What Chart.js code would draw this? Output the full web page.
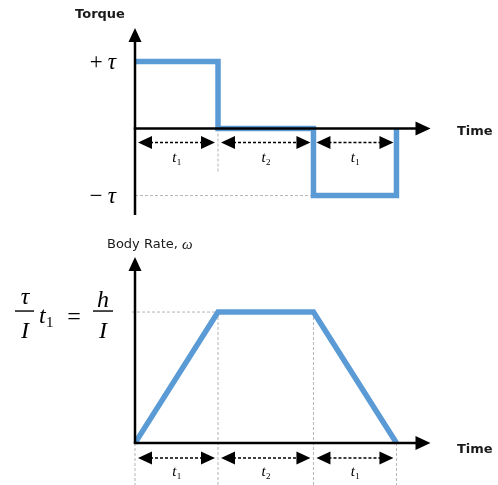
<!DOCTYPE html>
<html>
<head>
<meta charset="utf-8">
<script src="https://cdn.jsdelivr.net/npm/chart.js@4.4.1/dist/chart.umd.min.js"></script>
<style>
  html, body { margin: 0; padding: 0; background: #ffffff; }
  #wrap { position: relative; width: 498px; height: 485px; overflow: hidden; background: #ffffff; }
  .panel { position: absolute; left: 0; width: 498px; }
  #torquePanel { top: 0; height: 235px; }
  #ratePanel { top: 235px; height: 250px; }
  canvas { display: block; }
</style>
</head>
<body>
<div id="wrap">
  <div class="panel" id="torquePanel"><canvas id="torqueChart" width="498" height="235" style="width:498px;height:235px"></canvas></div>
  <div class="panel" id="ratePanel"><canvas id="rateChart" width="498" height="250" style="width:498px;height:250px"></canvas></div>
</div>
<script>
// Bang-coast-bang manoeuvre: torque +τ for t1, zero for t2, −τ for t1
const phaseBounds = [0, 1, 2.15, 3.15];          // time at each phase boundary
const phaseNames = [['t', '1'], ['t', '2'], ['t', '1']];
const torqueLevels = [1, 0, -1];                  // torque per phase, in units of τ
const torqueTickValues = [1, -1];
const torqueTickLabels = ['+τ', '−τ'];
const rateValues = [0, 1, 1, 0];                  // body rate at each boundary, in units of h/I
const timeAxisMax = 3.56;

const BLUE = '#5b9bd5';
const GREY = '#b4b4b4';

// step profile built from the per-phase torque levels
const torquePoints = [];
torqueLevels.forEach((lvl, i) => {
  torquePoints.push({ x: phaseBounds[i], y: lvl });
  torquePoints.push({ x: phaseBounds[i + 1], y: lvl });
});
torquePoints.push({ x: phaseBounds[phaseBounds.length - 1], y: 0 });

const ratePoints = phaseBounds.map((t, i) => ({ x: t, y: rateValues[i] }));

function arrowHead(ctx, tx, ty, dir, len, half) {
  ctx.beginPath();
  ctx.moveTo(tx, ty);
  if (dir === 'right') { ctx.lineTo(tx - len, ty - half); ctx.lineTo(tx - len, ty + half); }
  else if (dir === 'left') { ctx.lineTo(tx + len, ty - half); ctx.lineTo(tx + len, ty + half); }
  else { ctx.lineTo(tx - half, ty + len); ctx.lineTo(tx + half, ty + len); }
  ctx.closePath();
  ctx.fill();
}

function greyDash(ctx, x1, y1, x2, y2) {
  ctx.save();
  ctx.strokeStyle = GREY;
  ctx.lineWidth = 1;
  ctx.setLineDash([3, 2]);
  ctx.beginPath();
  ctx.moveTo(x1, y1);
  ctx.lineTo(x2, y2);
  ctx.stroke();
  ctx.restore();
}

function drawAxes(chart, yAxisBottom) {
  const { ctx, chartArea: a, scales: { x, y } } = chart;
  const x0 = x.getPixelForValue(0), y0 = y.getPixelForValue(0);
  ctx.save();
  ctx.strokeStyle = '#000';
  ctx.fillStyle = '#000';
  ctx.lineWidth = 2.5;
  ctx.beginPath();
  ctx.moveTo(x0, yAxisBottom);
  ctx.lineTo(x0, a.top + 12);
  ctx.stroke();
  arrowHead(ctx, x0, a.top, 'up', 14, 6.5);
  ctx.beginPath();
  ctx.moveTo(x0 - 1.25, y0);
  ctx.lineTo(a.right - 12, y0);
  ctx.stroke();
  arrowHead(ctx, a.right, y0, 'right', 15, 7);
  ctx.restore();
}

function drawSubscripted(ctx, cx, baseY, main, sub, mainFont, subFont, subDrop) {
  ctx.save();
  ctx.font = mainFont;
  const w1 = ctx.measureText(main).width;
  ctx.font = subFont;
  const w2 = ctx.measureText(sub).width;
  const left = cx - (w1 + w2) / 2;
  ctx.textAlign = 'left';
  ctx.textBaseline = 'alphabetic';
  ctx.font = mainFont;
  ctx.fillText(main, left, baseY);
  ctx.font = subFont;
  ctx.fillText(sub, left + w1 + 0.5, baseY + subDrop);
  ctx.restore();
}

// dashed double-headed arrows marking each phase duration
function drawSpans(chart, offset, labelOffset) {
  const { ctx, scales: { x, y } } = chart;
  const yy = y.getPixelForValue(0) + offset;
  ctx.save();
  ctx.fillStyle = '#000';
  ctx.strokeStyle = '#000';
  for (let i = 0; i < phaseNames.length; i++) {
    const xa = x.getPixelForValue(phaseBounds[i]);
    const xb = x.getPixelForValue(phaseBounds[i + 1]);
    const l = xa + 3, r = xb - 3;
    ctx.save();
    ctx.lineWidth = 1.4;
    ctx.setLineDash([3, 2]);
    ctx.beginPath();
    ctx.moveTo(l + 12, yy);
    ctx.lineTo(r - 12, yy);
    ctx.stroke();
    ctx.restore();
    arrowHead(ctx, l, yy, 'left', 14, 6.5);
    arrowHead(ctx, r, yy, 'right', 14, 6.5);
    drawSubscripted(ctx, (xa + xb) / 2, yy + labelOffset, phaseNames[i][0], phaseNames[i][1],
      'italic 15px "Liberation Serif"', '9px "Liberation Serif"', 3);
  }
  ctx.restore();
}

const torqueDecor = {
  id: 'torqueDecor',
  beforeDatasetsDraw(chart) {
    const { x, y } = chart.scales;
    const x0 = x.getPixelForValue(0), y0 = y.getPixelForValue(0);
    greyDash(chart.ctx, x0, y.getPixelForValue(-1), x.getPixelForValue(phaseBounds[2]), y.getPixelForValue(-1));
    greyDash(chart.ctx, x.getPixelForValue(phaseBounds[1]), y0, x.getPixelForValue(phaseBounds[1]), y0 + 44);
  },
  afterDatasetsDraw(chart) {
    const { ctx, chartArea: a, scales: { x, y } } = chart;
    drawAxes(chart, a.bottom);
    drawSpans(chart, 14, 19);
    const x0 = x.getPixelForValue(0), y0 = y.getPixelForValue(0);
    ctx.save();
    ctx.fillStyle = '#000';
    ctx.textBaseline = 'middle';
    ctx.textAlign = 'right';
    ctx.font = 'italic 23px "Liberation Serif"';
    ctx.letterSpacing = '4px';
    torqueTickValues.forEach((v, i) => {
      ctx.fillText(torqueTickLabels[i], x0 - 15, y.getPixelForValue(v) + 1);
    });
    ctx.letterSpacing = '0px';
    ctx.font = 'bold 13px "DejaVu Sans"';
    ctx.fillStyle = '#1a1a1a';
    ctx.textAlign = 'center';
    ctx.fillText('Torque', 100, 15);
    ctx.textAlign = 'left';
    ctx.fillText('Time', 457, y0 + 3);
    ctx.restore();
  }
};

const rateDecor = {
  id: 'rateDecor',
  beforeDatasetsDraw(chart) {
    const { chartArea: a, scales: { x, y } } = chart;
    const x0 = x.getPixelForValue(0), y0 = y.getPixelForValue(0), yTop = y.getPixelForValue(1);
    const ctx = chart.ctx;
    greyDash(ctx, x0 - 3, yTop, x.getPixelForValue(phaseBounds[1]), yTop);
    [1, 2].forEach(i => greyDash(ctx, x.getPixelForValue(phaseBounds[i]), yTop, x.getPixelForValue(phaseBounds[i]), a.bottom));
    [0, 3].forEach(i => greyDash(ctx, x.getPixelForValue(phaseBounds[i]), y0, x.getPixelForValue(phaseBounds[i]), a.bottom));
  },
  afterDatasetsDraw(chart) {
    const { ctx, scales: { x, y } } = chart;
    const y0 = y.getPixelForValue(0), yTop = y.getPixelForValue(1);
    drawAxes(chart, y0);
    drawSpans(chart, 15, 18);
    ctx.save();
    ctx.fillStyle = '#1a1a1a';
    ctx.textBaseline = 'middle';
    ctx.textAlign = 'left';
    ctx.font = 'bold 13px "DejaVu Sans"';
    ctx.fillText('Time', 457, y0 + 7);
    ctx.font = '13px "DejaVu Sans"';
    const label = 'Body Rate, ';
    ctx.fillText(label, 107, 10);
    const lw = ctx.measureText(label).width;
    ctx.font = 'italic 15px "Liberation Serif"';
    ctx.fillText('ω', 107 + lw, 10);

    // τ/I · t1 = h/I, the body rate reached after the first phase
    ctx.fillStyle = '#000';
    ctx.textAlign = 'center';
    ctx.textBaseline = 'alphabetic';
    const bar = yTop - 1;
    const serif = 'italic 24px "Liberation Serif"';
    ctx.font = serif;
    ctx.fillText('τ', 25, bar - 7);
    ctx.fillText('I', 25, bar + 27);
    ctx.fillRect(15, bar - 0.7, 19, 1.4);
    drawSubscripted(ctx, 46, bar + 12, 't', '1', serif, '15px "Liberation Serif"', 4);
    ctx.font = '24px "Liberation Serif"';
    ctx.fillText('=', 74, bar + 13);
    ctx.font = serif;
    ctx.fillText('h', 103, bar - 4);
    ctx.fillText('I', 103, bar + 27);
    ctx.fillRect(93, bar - 0.7, 20, 1.4);
    ctx.restore();
  }
};

function makeOptions(yMin, yMax, padding) {
  return {
    responsive: false,
    animation: false,
    devicePixelRatio: 1,
    layout: { padding },
    plugins: { legend: { display: false }, tooltip: { enabled: false } },
    scales: {
      x: { type: 'linear', min: 0, max: timeAxisMax, display: false },
      y: { type: 'linear', min: yMin, max: yMax, display: false }
    },
    elements: { point: { radius: 0 } }
  };
}

const lineStyle = {
  borderColor: BLUE,
  borderWidth: 5.5,
  borderJoinStyle: 'miter',
  borderCapStyle: 'butt',
  fill: false,
  tension: 0,
  pointRadius: 0
};

new Chart(document.getElementById('torqueChart'), {
  type: 'line',
  data: { datasets: [Object.assign({ label: 'Torque', data: torquePoints }, lineStyle)] },
  options: makeOptions(-1.29, 1.5, { left: 135, right: 67.5, top: 28, bottom: 20 }),
  plugins: [torqueDecor]
});

new Chart(document.getElementById('rateChart'), {
  type: 'line',
  data: { datasets: [Object.assign({ label: 'Body Rate', data: ratePoints }, lineStyle)] },
  options: makeOptions(-0.32, 1.42, { left: 135, right: 67.5, top: 22, bottom: 0 }),
  plugins: [rateDecor]
});
</script>
</body>
</html>
